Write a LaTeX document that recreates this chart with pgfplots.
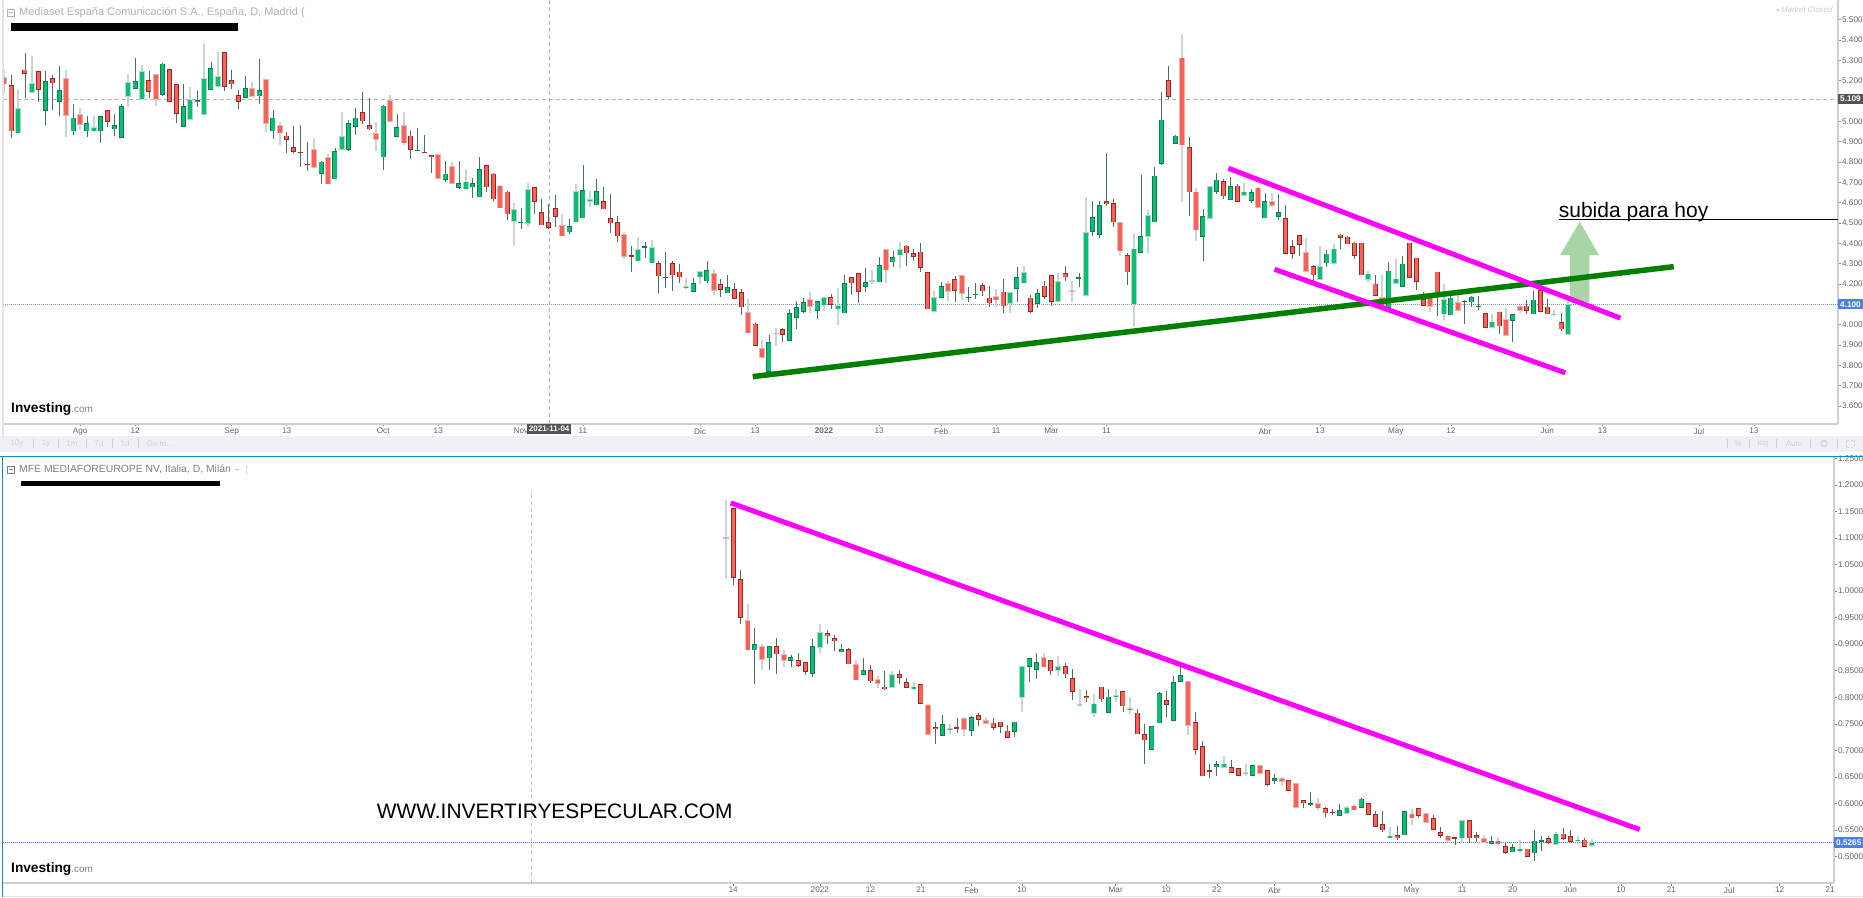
\documentclass[border=0pt]{standalone}
\usepackage{fontspec}
\setmainfont{Liberation Sans}
\usepackage{pgfplots}
\usepackage{pgfplotstable}
\pgfplotsset{compat=1.18}
\definecolor{cgreen}{HTML}{0ABF74}
\definecolor{cgreend}{HTML}{0E7C50}
\definecolor{cred}{HTML}{FF6158}
\definecolor{credd}{HTML}{8F2A26}
\definecolor{wickd}{HTML}{48705F}
\definecolor{wickp}{HTML}{C8D6D0}
\definecolor{palered}{HTML}{E0B8B4}
\definecolor{palegreen}{HTML}{B8D4C6}
\definecolor{axisgray}{HTML}{CFCFCF}
\definecolor{lab}{HTML}{666666}
\definecolor{barfill}{HTML}{F0F1F4}
\definecolor{barfg}{HTML}{CDD0D6}
\definecolor{mag}{HTML}{FF00FF}
\definecolor{lgreen}{HTML}{008000}
\definecolor{arrowg}{HTML}{A9D4A6}
\definecolor{blue1}{HTML}{8090E0}
\definecolor{blue2}{HTML}{4477EE}
\definecolor{boxd}{HTML}{555555}
\definecolor{boxb}{HTML}{4C7EE8}
\definecolor{frame}{HTML}{0A8FC4}
\pgfplotstableread{
x t b h l g w
0 5.217 5.181 5.253 5.141 0 1
1 5.177 4.951 5.228 4.920 0 0
2 5.064 4.941 5.159 4.941 1 1
3 5.254 5.235 5.335 5.113 0 0
4 5.187 5.141 5.323 5.141 1 1
5 5.245 5.153 5.245 5.097 0 0
6 5.197 5.053 5.248 4.982 1 0
7 5.212 5.187 5.228 5.056 0 0
8 5.153 5.097 5.274 5.027 1 0
9 5.212 5.028 5.254 4.925 0 1
10 5.018 4.951 5.086 4.935 1 0
11 5.035 4.981 5.066 4.958 0 1
12 4.990 4.951 5.025 4.925 1 0
13 4.971 4.951 5.028 4.949 1 1
14 5.025 4.951 5.025 4.892 1 0
15 5.054 4.999 5.056 4.972 0 0
16 4.981 4.961 5.035 4.930 1 0
17 5.074 4.917 5.086 4.917 1 0
18 5.192 5.122 5.233 5.068 1 1
19 5.197 5.158 5.313 5.158 1 0
20 5.246 5.104 5.276 5.104 1 1
21 5.202 5.146 5.245 5.115 0 0
22 5.231 5.104 5.233 5.076 0 1
23 5.284 5.131 5.286 5.125 1 0
24 5.256 5.097 5.256 5.097 0 0
25 5.182 5.035 5.182 4.992 0 0
26 5.074 4.974 5.182 4.974 1 0
27 5.107 5.008 5.167 5.008 1 1
28 5.104 5.094 5.149 5.069 1 0
29 5.212 5.033 5.379 5.033 1 1
30 5.263 5.153 5.294 5.153 1 0
31 5.222 5.171 5.341 5.171 1 1
32 5.341 5.171 5.343 5.151 0 0
33 5.202 5.181 5.254 5.161 0 0
34 5.128 5.097 5.153 5.059 0 0
35 5.163 5.117 5.222 5.117 1 0
36 5.163 5.122 5.194 5.122 0 1
37 5.153 5.122 5.304 5.086 1 0
38 5.207 4.989 5.207 4.945 0 1
39 5.018 4.951 5.058 4.915 1 0
40 4.981 4.940 4.997 4.884 0 1
41 4.930 4.910 4.945 4.845 0 0
42 4.872 4.851 4.979 4.846 0 0
43 4.851 4.846 4.981 4.774 0 0
44 4.789 4.787 4.897 4.756 0 0
45 4.863 4.772 4.920 4.772 0 1
46 4.802 4.743 4.805 4.690 1 0
47 4.823 4.690 4.838 4.690 0 1
48 4.853 4.715 4.871 4.715 1 0
49 4.926 4.861 5.045 4.861 1 1
50 4.990 4.859 5.007 4.856 1 0
51 5.018 4.971 5.066 4.935 1 0
52 5.045 5.000 5.143 4.989 0 0
53 4.981 4.961 5.113 4.958 0 0
54 4.940 4.910 4.997 4.854 0 1
55 5.077 4.823 5.079 4.758 1 0
56 5.104 4.997 5.128 4.997 0 1
57 4.971 4.922 5.038 4.922 1 0
58 4.981 4.892 5.048 4.882 0 1
59 4.930 4.861 4.951 4.815 0 0
60 4.859 4.856 4.968 4.856 1 0
61 4.851 4.846 4.931 4.846 0 0
62 4.833 4.823 4.835 4.748 0 0
63 4.838 4.718 4.838 4.718 0 1
64 4.743 4.713 4.804 4.703 1 0
65 4.778 4.693 4.801 4.693 0 1
66 4.695 4.673 4.803 4.665 1 0
67 4.703 4.665 4.764 4.665 1 1
68 4.695 4.675 4.719 4.624 1 0
69 4.764 4.626 4.823 4.626 1 0
70 4.783 4.675 4.785 4.654 0 0
71 4.742 4.616 4.744 4.606 0 0
72 4.683 4.572 4.685 4.572 0 1
73 4.654 4.542 4.655 4.516 0 0
74 4.567 4.506 4.596 4.386 1 1
75 4.505 4.501 4.572 4.472 1 0
76 4.665 4.496 4.695 4.482 1 1
77 4.675 4.605 4.675 4.544 0 0
78 4.552 4.488 4.616 4.488 0 0
79 4.503 4.477 4.593 4.468 0 0
80 4.572 4.531 4.636 4.478 0 0
81 4.488 4.434 4.544 4.434 0 1
82 4.486 4.454 4.518 4.446 1 0
83 4.655 4.503 4.691 4.503 1 1
84 4.660 4.523 4.783 4.523 1 0
85 4.616 4.605 4.655 4.577 1 1
86 4.655 4.586 4.714 4.586 1 0
87 4.606 4.567 4.675 4.567 0 0
88 4.523 4.498 4.642 4.452 0 0
89 4.503 4.434 4.536 4.406 0 0
90 4.444 4.334 4.454 4.321 0 1
91 4.341 4.334 4.386 4.260 0 0
92 4.370 4.311 4.429 4.311 1 1
93 4.385 4.382 4.408 4.329 1 0
94 4.380 4.301 4.416 4.301 1 1
95 4.301 4.237 4.311 4.157 0 0
96 4.234 4.231 4.357 4.182 0 0
97 4.301 4.242 4.314 4.164 0 0
98 4.260 4.232 4.296 4.206 0 0
99 4.188 4.178 4.227 4.173 1 1
100 4.203 4.162 4.227 4.162 1 0
101 4.262 4.232 4.262 4.198 1 1
102 4.267 4.213 4.313 4.206 1 0
103 4.252 4.167 4.272 4.146 0 1
104 4.198 4.172 4.224 4.134 0 0
105 4.183 4.154 4.244 4.154 1 0
106 4.173 4.127 4.205 4.127 0 0
107 4.159 4.085 4.175 4.047 0 0
108 4.060 3.957 4.124 3.957 0 1
109 4.005 3.896 4.006 3.896 0 0
110 3.883 3.837 3.924 3.837 0 1
111 3.913 3.768 3.949 3.768 1 0
112 3.960 3.957 3.983 3.895 0 1
113 3.977 3.949 3.983 3.914 0 0
114 4.055 3.921 4.077 3.921 1 0
115 4.087 4.034 4.114 3.977 1 0
116 4.109 4.064 4.129 4.059 1 0
117 4.126 4.088 4.160 4.055 0 1
118 4.114 4.068 4.114 4.026 1 0
119 4.136 4.095 4.136 4.068 1 1
120 4.134 4.096 4.152 4.075 0 0
121 4.095 4.075 4.180 3.996 1 1
122 4.203 4.055 4.244 4.055 1 0
123 4.234 4.203 4.234 4.147 0 0
124 4.252 4.162 4.254 4.105 0 0
125 4.208 4.185 4.278 4.162 1 0
126 4.218 4.214 4.268 4.201 1 1
127 4.293 4.208 4.332 4.208 1 0
128 4.370 4.267 4.370 4.206 0 1
129 4.331 4.306 4.362 4.283 1 0
130 4.370 4.341 4.406 4.280 1 1
131 4.388 4.350 4.390 4.288 0 0
132 4.350 4.332 4.370 4.314 0 0
133 4.359 4.280 4.400 4.260 0 0
134 4.257 4.075 4.257 4.075 0 0
135 4.134 4.064 4.164 4.064 1 1
136 4.188 4.132 4.209 4.132 1 0
137 4.203 4.162 4.214 4.118 0 1
138 4.223 4.165 4.241 4.111 0 0
139 4.242 4.152 4.242 4.121 0 1
140 4.136 4.132 4.183 4.111 1 0
141 4.152 4.147 4.205 4.128 1 0
142 4.193 4.164 4.203 4.141 0 0
143 4.132 4.105 4.190 4.085 0 0
144 4.139 4.119 4.175 4.088 0 1
145 4.162 4.090 4.223 4.057 0 0
146 4.159 4.103 4.160 4.057 1 1
147 4.232 4.175 4.283 4.109 1 0
148 4.257 4.203 4.288 4.203 1 1
149 4.132 4.064 4.147 4.059 0 0
150 4.154 4.103 4.175 4.083 1 0
151 4.191 4.137 4.213 4.128 0 0
152 4.242 4.113 4.242 4.093 0 0
153 4.214 4.113 4.255 4.113 1 1
154 4.252 4.232 4.288 4.216 0 0
155 4.170 4.164 4.214 4.113 0 1
156 4.232 4.227 4.255 4.185 1 0
157 4.454 4.142 4.628 4.142 1 1
158 4.528 4.457 4.606 4.437 1 0
159 4.587 4.442 4.606 4.427 1 0
160 4.606 4.595 4.842 4.583 0 0
161 4.596 4.503 4.616 4.478 0 0
162 4.503 4.360 4.506 4.339 0 1
163 4.341 4.257 4.350 4.195 0 0
164 4.373 4.100 4.449 3.990 1 1
165 4.434 4.352 4.736 4.352 1 0
166 4.537 4.432 4.564 4.350 1 1
167 4.732 4.503 4.773 4.503 1 0
168 5.008 4.791 5.142 4.787 1 0
169 5.201 5.121 5.273 5.108 0 0
170 4.929 4.890 4.931 4.890 1 0
171 5.313 4.882 5.429 4.605 0 1
172 4.872 4.650 4.923 4.536 0 0
173 4.654 4.464 4.673 4.409 0 1
174 4.532 4.432 4.567 4.314 1 0
175 4.680 4.521 4.682 4.521 1 1
176 4.713 4.652 4.744 4.644 1 0
177 4.705 4.631 4.714 4.619 0 0
178 4.680 4.614 4.726 4.614 1 0
179 4.683 4.605 4.690 4.605 0 0
180 4.654 4.634 4.696 4.634 1 1
181 4.650 4.609 4.665 4.600 1 0
182 4.673 4.575 4.675 4.572 0 1
183 4.606 4.523 4.646 4.523 1 0
184 4.606 4.585 4.647 4.577 0 1
185 4.552 4.531 4.642 4.514 1 0
186 4.522 4.349 4.586 4.349 0 0
187 4.387 4.349 4.418 4.323 0 0
188 4.441 4.392 4.441 4.338 0 0
189 4.357 4.260 4.428 4.260 0 1
190 4.288 4.242 4.292 4.214 0 0
191 4.288 4.221 4.389 4.221 1 1
192 4.349 4.301 4.369 4.283 1 0
193 4.374 4.300 4.394 4.300 1 1
194 4.443 4.428 4.444 4.372 0 0
195 4.433 4.394 4.436 4.394 0 0
196 4.403 4.339 4.408 4.323 0 0
197 4.403 4.242 4.403 4.242 0 0
198 4.250 4.219 4.265 4.211 1 1
199 4.201 4.140 4.246 4.140 0 0
200 4.135 4.086 4.242 4.086 0 1
201 4.265 4.083 4.308 4.083 1 0
202 4.226 4.201 4.324 4.201 1 1
203 4.300 4.185 4.339 4.185 1 0
204 4.403 4.231 4.403 4.231 0 0
205 4.329 4.211 4.329 4.168 0 0
206 4.124 4.093 4.160 4.093 0 0
207 4.135 4.086 4.152 4.063 0 1
208 4.260 4.152 4.260 4.043 0 0
209 4.124 4.051 4.201 4.025 1 1
210 4.132 4.046 4.160 4.046 1 0
211 4.112 4.066 4.145 4.066 0 1
212 4.117 4.111 4.119 4.004 0 0
213 4.137 4.109 4.139 4.086 1 0
214 4.093 4.089 4.142 4.073 1 0
215 4.055 3.984 4.055 3.984 0 0
216 4.014 3.984 4.050 3.984 1 1
217 4.063 3.992 4.063 3.954 0 0
218 4.028 3.945 4.083 3.945 0 1
219 4.053 4.017 4.053 3.913 1 0
220 4.091 4.069 4.094 4.056 0 1
221 4.093 4.066 4.119 4.053 0 0
222 4.122 4.051 4.163 4.051 1 0
223 4.168 4.063 4.168 4.063 0 0
224 4.088 4.051 4.124 4.051 0 0
225 4.053 4.050 4.070 4.040 1 1
226 4.012 3.977 4.058 3.968 0 0
227 4.102 3.949 4.144 3.949 1 1
}\topdata
\pgfplotstableread{
x t b h l g w
0 1.101 1.099 1.171 1.022 0 1
1 1.156 1.025 1.156 1.012 0 0
2 1.022 0.950 1.040 0.938 0 0
3 0.945 0.888 0.975 0.888 0 1
4 0.900 0.888 0.930 0.825 1 0
5 0.896 0.871 0.900 0.851 0 1
6 0.896 0.873 0.896 0.852 1 0
7 0.896 0.881 0.911 0.844 0 0
8 0.881 0.869 0.889 0.856 0 1
9 0.875 0.869 0.879 0.857 1 0
10 0.870 0.859 0.884 0.857 0 0
11 0.866 0.848 0.866 0.842 0 0
12 0.896 0.844 0.909 0.839 1 0
13 0.923 0.893 0.937 0.883 1 1
14 0.920 0.916 0.927 0.901 0 0
15 0.911 0.905 0.918 0.887 0 0
16 0.890 0.885 0.901 0.885 1 0
17 0.890 0.862 0.892 0.862 0 0
18 0.862 0.832 0.870 0.832 0 1
19 0.851 0.842 0.874 0.842 1 0
20 0.851 0.830 0.860 0.827 0 0
21 0.834 0.825 0.840 0.818 0 1
22 0.820 0.816 0.849 0.813 0 0
23 0.844 0.817 0.850 0.817 1 1
24 0.844 0.837 0.851 0.824 0 0
25 0.829 0.818 0.836 0.818 0 0
26 0.820 0.816 0.829 0.813 1 1
27 0.825 0.787 0.825 0.787 0 0
28 0.786 0.729 0.787 0.729 0 1
29 0.744 0.741 0.753 0.712 0 0
30 0.749 0.727 0.766 0.727 1 0
31 0.742 0.739 0.749 0.731 1 1
32 0.743 0.741 0.760 0.733 0 0
33 0.760 0.738 0.762 0.727 0 1
34 0.762 0.737 0.765 0.727 1 0
35 0.766 0.758 0.770 0.746 0 0
36 0.757 0.750 0.762 0.750 0 1
37 0.752 0.742 0.760 0.738 0 0
38 0.754 0.744 0.754 0.733 0 0
39 0.737 0.724 0.747 0.724 0 0
40 0.754 0.735 0.754 0.725 1 0
41 0.858 0.799 0.858 0.773 1 1
42 0.874 0.857 0.874 0.829 1 0
43 0.866 0.852 0.883 0.834 1 0
44 0.875 0.856 0.883 0.856 0 1
45 0.870 0.849 0.871 0.842 0 0
46 0.859 0.850 0.877 0.840 1 1
47 0.859 0.843 0.864 0.837 0 0
48 0.836 0.810 0.853 0.795 0 0
49 0.787 0.785 0.815 0.785 1 1
50 0.802 0.798 0.813 0.791 0 0
51 0.788 0.769 0.806 0.763 1 1
52 0.820 0.796 0.820 0.791 0 0
53 0.801 0.771 0.815 0.771 1 0
54 0.804 0.801 0.815 0.791 1 1
55 0.811 0.783 0.811 0.772 0 0
56 0.780 0.776 0.800 0.769 1 1
57 0.771 0.730 0.777 0.730 0 0
58 0.731 0.719 0.749 0.675 0 0
59 0.746 0.701 0.746 0.701 1 0
60 0.807 0.751 0.810 0.751 1 0
61 0.794 0.786 0.812 0.763 0 0
62 0.829 0.756 0.840 0.756 1 0
63 0.841 0.829 0.857 0.829 1 0
64 0.830 0.746 0.830 0.729 0 1
65 0.753 0.701 0.773 0.691 0 0
66 0.708 0.651 0.718 0.651 0 0
67 0.662 0.660 0.674 0.647 0 0
68 0.674 0.668 0.679 0.652 1 0
69 0.675 0.667 0.690 0.667 1 1
70 0.668 0.657 0.682 0.657 0 0
71 0.666 0.652 0.666 0.652 0 0
72 0.659 0.657 0.674 0.652 1 1
73 0.672 0.652 0.672 0.652 1 0
74 0.672 0.656 0.672 0.656 0 1
75 0.663 0.635 0.663 0.633 0 0
76 0.648 0.643 0.655 0.637 1 0
77 0.647 0.640 0.650 0.633 0 1
78 0.644 0.624 0.645 0.624 0 0
79 0.638 0.592 0.638 0.592 0 1
80 0.606 0.601 0.606 0.592 0 0
81 0.600 0.599 0.621 0.596 1 0
82 0.600 0.591 0.610 0.588 0 1
83 0.591 0.581 0.593 0.575 0 0
84 0.584 0.583 0.590 0.578 0 0
85 0.587 0.577 0.598 0.577 1 0
86 0.593 0.580 0.596 0.580 1 1
87 0.596 0.587 0.598 0.587 0 1
88 0.609 0.592 0.611 0.591 1 0
89 0.600 0.579 0.600 0.579 0 0
90 0.580 0.556 0.586 0.556 0 0
91 0.561 0.549 0.586 0.547 0 0
92 0.539 0.535 0.555 0.535 1 1
93 0.540 0.535 0.557 0.531 0 0
94 0.585 0.540 0.586 0.540 1 0
95 0.581 0.572 0.589 0.559 0 1
96 0.591 0.577 0.591 0.573 0 0
97 0.581 0.564 0.582 0.564 0 1
98 0.572 0.550 0.579 0.549 0 0
99 0.546 0.539 0.556 0.534 0 0
100 0.539 0.530 0.541 0.528 0 1
101 0.536 0.534 0.536 0.522 0 0
102 0.568 0.534 0.569 0.525 1 1
103 0.569 0.534 0.569 0.526 0 0
104 0.540 0.535 0.546 0.528 0 0
105 0.534 0.526 0.541 0.526 0 1
106 0.529 0.524 0.539 0.524 1 0
107 0.530 0.523 0.537 0.521 0 1
108 0.520 0.507 0.527 0.505 0 0
109 0.517 0.508 0.524 0.508 1 0
110 0.515 0.511 0.531 0.507 1 1
111 0.515 0.500 0.515 0.500 0 0
112 0.530 0.506 0.550 0.491 1 0
113 0.531 0.529 0.538 0.510 1 0
114 0.534 0.526 0.539 0.523 0 0
115 0.543 0.522 0.546 0.522 1 1
116 0.543 0.533 0.554 0.531 0 0
117 0.538 0.528 0.550 0.528 0 0
118 0.532 0.529 0.538 0.528 1 1
119 0.532 0.518 0.535 0.518 0 0
120 0.527 0.520 0.533 0.518 1 1
}\botdata
\newcommand{\cwick}[4]{%
 \addplot[forget plot,draw=none,mark=none,error bars/.cd,y dir=both,y explicit,error mark=none,error bar style={draw=#3,line width=#4,solid}]
 table[x expr={\thisrow{w}==#2 ? \thisrow{x} : nan},y expr={\thisrow{t}},y error plus expr={\thisrow{h}-\thisrow{t}},y error minus expr={\thisrow{t}-\thisrow{l}}] {#1};}
\newcommand{\cbody}[6]{%
 \addplot[forget plot,draw=none,mark=none,error bars/.cd,y dir=both,y explicit,error mark=none,error bar style={draw=#3,line width=#4,solid}]
 table[x expr={(\thisrow{g}*2+\thisrow{w})==#2 ? \thisrow{x} : nan},y expr={(\thisrow{t}+\thisrow{b})/2},y error expr={max((\thisrow{t}-\thisrow{b})/2-#5,#6)}] {#1};}
\newcommand{\candles}[3]{% table, outline in price, min half height
 \cwick{#1}{0}{wickd}{0.8pt}
 \cwick{#1}{1}{wickp}{2pt}
 \cbody{#1}{0}{credd}{5pt}{0}{#3}
 \cbody{#1}{0}{cred}{3.4pt}{#2}{0.00001}
 \cbody{#1}{2}{cgreend}{5pt}{0}{#3}
 \cbody{#1}{2}{cgreen}{3.4pt}{#2}{0.00001}
 \cbody{#1}{1}{palered}{5.6pt}{0}{#3}
 \cbody{#1}{1}{cred}{4pt}{#2}{0.00001}
 \cbody{#1}{3}{palegreen}{5.6pt}{0}{#3}
 \cbody{#1}{3}{cgreen}{4pt}{#2}{0.00001}
}
\pgfplotsset{panel/.style={
 scale only axis,
 axis x line=bottom, axis y line=right,
 axis line style={-,draw=axisgray,line width=1.5pt},
 tick align=outside, major tick length=2.5pt,
 tick style={draw=gray,line width=0.5pt},
 tick label style={font=\fontsize{8.2}{9}\selectfont,text=lab},
 clip mode=individual,
 yticklabel style={inner sep=1.4pt},
 xticklabel style={inner sep=1.5pt},
}}
\newcommand{\logo}[2]{\node[anchor=base west,inner sep=0pt] at (#1pt,#2pt) {\fontsize{13.7}{15}\selectfont\textbf{Investing}\textcolor{gray}{\fontsize{10}{12}\selectfont.com}};}
\begin{document}
\begin{tikzpicture}[x=1pt,y=1pt]
\path[use as bounding box,fill=white] (0,0) rectangle (1863,897);
% toolbar strip
\fill[barfill] (0,445) rectangle (1863,460.5);
\begin{axis}[panel,at={(3pt,473pt)},anchor=south west,width=1835pt,height=424pt,
 xmin=-0.189,xmax=266.2,ymin=3.511,ymax=5.5967,
 xtick={11,19,33,41,55,63,75,84,101,109,119,127,136,144,152,160,183,191,202,210,224,232,246,254},
 xticklabels={Ago,12,Sep,13,Oct,13,Nov,11,Dic,13,\textbf{2022},13,Feb,11,Mar,11,Abr,13,May,12,Jun,13,Jul,13},
 ytick={3.6,3.7,3.8,3.9,4.0,4.1,4.2,4.3,4.4,4.5,4.6,4.7,4.8,4.9,5.0,5.1,5.2,5.3,5.4,5.5},
 yticklabel style={/pgf/number format/.cd,fixed,fixed zerofill,precision=3,assume math mode=true},
]
\addplot[forget plot,draw=gray!60,line width=0.7pt,dash pattern=on 4pt off 3pt] coordinates {(-0.189,5.109)(266.2,5.109)};
\addplot[forget plot,draw=blue1,line width=0.7pt,dash pattern=on 1pt off 1pt] coordinates {(-0.189,4.100)(266.2,4.100)};
\addplot[forget plot,draw=gray!60,line width=0.7pt,dash pattern=on 4pt off 3pt] coordinates {(79.1,3.511)(79.1,5.5967)};
\candles{\topdata}{0.0035}{0.0018}
\addplot[forget plot,fill=arrowg,draw=none,mark=none] coordinates {(228.7,4.506)(231.5,4.342)(230.1,4.342)(230.1,4.108)(227.3,4.108)(227.3,4.342)(225.86,4.342)};
\addplot[forget plot,draw=lgreen,line width=5.5pt] coordinates {(108.65,3.744)(242.35,4.285)};
\addplot[forget plot,draw=mag,line width=5pt] coordinates {(177.7,4.769)(234.6,4.032)};
\addplot[forget plot,draw=mag,line width=5pt] coordinates {(184.4,4.272)(226.6,3.763)};
\addplot[forget plot,draw=black,line width=1.6pt] coordinates {(225.65,4.516)(266.2,4.516)};
\node[anchor=base west,inner sep=0pt] at (axis cs:225.65,4.526) {\fontsize{21}{24}\selectfont subida para hoy};
\node[anchor=west,fill=boxd,text=white,inner xsep=2pt,inner ysep=2.3pt,minimum width=24.5pt] at (axis cs:266.2,5.109) {\fontsize{8.2}{9}\selectfont\textbf{5.109}};
\node[anchor=west,fill=boxb,text=white,inner xsep=2pt,inner ysep=2.3pt,minimum width=24.5pt] at (axis cs:266.2,4.100) {\fontsize{8.2}{9}\selectfont\textbf{4.100}};
\node[fill=boxd,text=white,inner xsep=2pt,inner ysep=2.2pt,minimum width=42.5pt,anchor=north] at (axis cs:79.1,3.511) {\fontsize{8}{9}\selectfont\textbf{2021-11-04}};
\end{axis}
\begin{axis}[panel,at={(3pt,14pt)},anchor=south west,width=1831pt,height=426pt,
 xmin=-100.18,xmax=153.53,ymin=0.4501,ymax=1.2524,
 xtick={1,13,20,27,34,41,54,61,68,76,83,95,102,109,117,124,131,139,146,153},
 xticklabels={14,2022,12,21,Feb,10,Mar,10,22,Abr,12,May,11,20,Jun,10,21,Jul,12,21},
 ytick={0.5,0.55,0.6,0.65,0.7,0.75,0.8,0.85,0.9,0.95,1.0,1.05,1.1,1.15,1.2,1.25},
 yticklabel style={/pgf/number format/.cd,fixed,fixed zerofill,precision=4,assume math mode=true},
]
\addplot[forget plot,draw=blue2,line width=0.7pt,dash pattern=on 1pt off 1pt] coordinates {(-100.18,0.5265)(153.53,0.5265)};
\addplot[forget plot,draw=gray!45,line width=0.7pt,dash pattern=on 4pt off 3pt] coordinates {(-27.0,0.4501)(-27.0,1.19)};
\candles{\botdata}{0.0013}{0.0009}
\addplot[forget plot,draw=mag,line width=5pt] coordinates {(0.65,1.166)(126.6,0.5509)};
\node[anchor=west,fill=boxb,text=white,inner xsep=2pt,inner ysep=2.3pt,minimum width=28.5pt] at (axis cs:153.53,0.5265) {\fontsize{8.2}{9}\selectfont\textbf{0.5265}};
\node[anchor=base west,inner sep=0pt] at (axis cs:-48.4,0.572) {\fontsize{20.9}{24}\selectfont WWW.INVERTIRYESPECULAR.COM};
\end{axis}
% frames
\draw[frame,line width=1pt] (0,440.5) -- (1863,440.5);
\draw[frame,line width=1pt] (2.5,440.5) -- (2.5,0);
\draw[barfg!60,line width=1pt] (3,0.8) -- (1863,0.8);
\draw[barfg!60,line width=1.2pt] (3,897) -- (3,460);
% titles
\node[anchor=base west,inner sep=0pt,text=gray!60] at (19,881) {\fontsize{11}{13}\selectfont Mediaset España Comunicación S.A., España, D, Madrid (};
\draw[gray!60,line width=0.5pt] (7,881) rectangle (14,888);
\draw[gray!60,line width=0.5pt] (8.5,884.5) -- (12.5,884.5);
\fill[black] (11.3,866.3) rectangle (237.7,873.7);
\node[anchor=base west,inner sep=0pt,text=gray] at (19,424) {\fontsize{10.4}{13}\selectfont MFE MEDIAFOREUROPE NV, Italia, D, Milán};
\draw[gray,line width=0.5pt] (7,424) rectangle (14,431);
\draw[gray,line width=0.5pt] (8.5,427.5) -- (12.5,427.5);
\draw[gray!50,line width=0.8pt] (235,427.5) -- (239,427.5);
\draw[gray!30,line width=0.6pt] (248,431) -- (246,431) -- (246,424) -- (248,424);
\fill[black] (21.4,411.3) rectangle (219.7,416);
\node[anchor=east,inner sep=0pt,text=gray!40] at (1833,887) {\fontsize{8}{9}\selectfont\textit{Market Closed}};
\fill[gray!40] (1778,887) circle (1.6);
\logo{11}{484}
\logo{11}{25}
% toolbar
\foreach \xx/\lbl in {17/10y,46/1y,72/1m,99/7d,125/1d,1738/\%,1763/log,1794/Auto}{
 \node[text=barfg,inner sep=0pt] at (\xx,453.3) {\fontsize{8}{9}\selectfont \lbl};}
\node[text=barfg,inner sep=0pt] at (160,453.3) {\fontsize{8}{9}\selectfont Go to{.}{.}{.}};
\foreach \xx in {33,58.5,86.5,112,138,1727,1749,1776,1810,1837}{
 \draw[barfg,line width=0.6pt] (\xx,449) -- (\xx,458);}
\draw[barfg,line width=1.2pt] (1824,453.3) circle (3);
\draw[barfg,line width=0.6pt,dash pattern=on 2pt off 2pt] (1846,449.5) rectangle (1854,457);
\end{tikzpicture}
\end{document}
